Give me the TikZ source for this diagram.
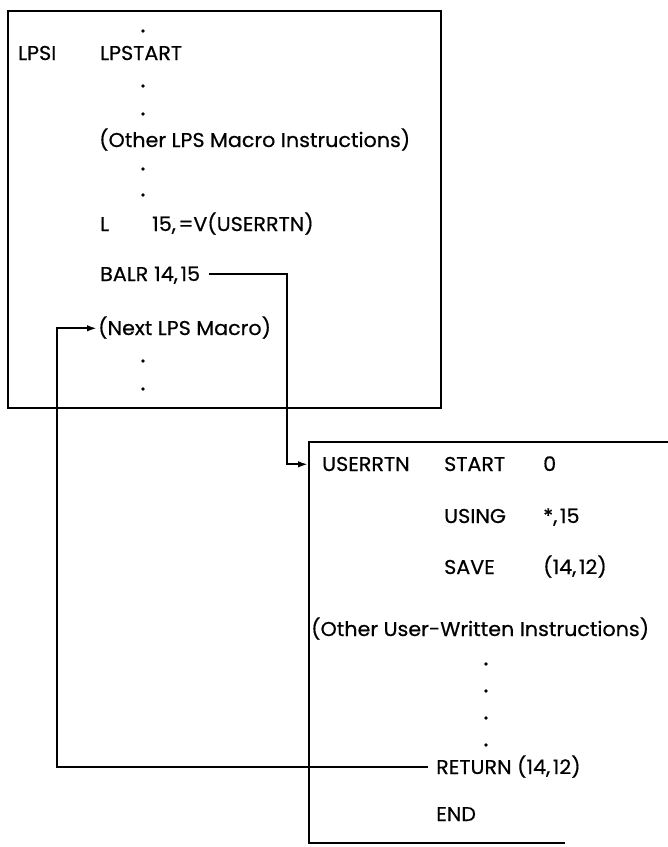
\documentclass[tikz,border=0pt]{standalone}
\usepackage{fontspec}
\usepackage{graphicx}
\setmainfont{Poppins}
\newfontfamily\diagfont{Poppins}[FakeBold=0.5]
\usetikzlibrary{arrows.meta}
\newsavebox\refbox
\sbox\refbox{\diagfont\fontsize{20}{23}\selectfont (Other LPS Macro Instructions)}
\pgfmathsetmacro\hfac{311/\wd\refbox}
\newcommand\T[1]{\scalebox{\hfac}[1]{#1}}
\newcommand\cm{,\kern2.5pt}
\begin{document}
\begin{tikzpicture}[x=1pt,y=-1pt,
  txt/.style={anchor=base west, inner sep=0pt, font=\diagfont\fontsize{20}{23}\selectfont},
  dotmark/.style={circle, fill, inner sep=0pt, minimum size=3.6pt},
  conn/.style={line width=2pt},
  boxline/.style={line width=1.9pt}]
\useasboundingbox (0,0) rectangle (668,847);
% box 1
\node[draw, boxline, anchor=north west, inner sep=0pt, minimum width=433pt, minimum height=397pt] (box1) at (7,10) {};
\node[dotmark] (d0) at (143,31) {};
\node[txt] (lpsi) at (18,60) {\T{LPSI}};
\node[txt] (lpstart) at (100,60) {\T{LPSTART}};
\node[dotmark] (d1) at (143,86) {};
\node[dotmark] (d2) at (143,114) {};
\node[txt] (other1) at (99,147) {\T{(Other LPS Macro Instructions)}};
\node[dotmark] (d3) at (143,169) {};
\node[dotmark] (d4) at (143,195) {};
\node[txt] (lop) at (100,231) {\T{L}};
\node[txt] (larg) at (152,231) {\T{15\cm=V(USERRTN)}};
\node[txt] (balr) at (100,281) {\T{BALR}};
\node[txt] (balrarg) at (154,281) {\T{14\cm15}};
\node[txt] (next) at (98,335) {\T{(Next LPS Macro)}};
\node[dotmark] (d5) at (143,361) {};
\node[dotmark] (d6) at (143,389) {};
% box 2
\coordinate (b2a) at (565,843);
\coordinate (b2b) at (309,843);
\coordinate (b2c) at (309,442);
\coordinate (b2d) at (668,442);
\draw[boxline] (b2a) -- (b2b) -- (b2c) -- (b2d);
\node[txt] (usr) at (322,471) {\T{USERRTN}};
\node[txt] (start) at (444,471) {\T{START}};
\node[txt] (startarg) at (543,471) {\T{0}};
\node[txt] (using) at (444,523) {\T{USING}};
\node[txt] (usingarg) at (543,523) {\T{*\cm15}};
\node[txt] (save) at (444,574) {\T{SAVE}};
\node[txt] (savearg) at (543,574) {\T{(14\cm12)}};
\node[txt] (other2) at (311,636) {\T{(Other User-Written Instructions)}};
\node[dotmark] (e1) at (486,664) {};
\node[dotmark] (e2) at (486,691) {};
\node[dotmark] (e3) at (486,718) {};
\node[dotmark] (e4) at (486,745) {};
\node[txt] (ret) at (436,774) {\T{RETURN (14\cm12)}};
\node[txt] (endn) at (436,821) {\T{END}};
% connection points
\coordinate (balrp) at ([xshift=9pt,yshift=6.7pt]balrarg.base east);
\coordinate (usrp) at ([xshift=-14pt,yshift=6.7pt]usr.base west);
\coordinate (retp) at ([xshift=-8pt,yshift=6.7pt]ret.base west);
\coordinate (nextp) at ([xshift=-1pt,yshift=6.7pt]next.base west);
\coordinate (rc) at (287,0);
\coordinate (lc) at (57,0);
\draw[conn, -{Latex[length=10pt,width=6.5pt]}] (balrp) -- (rc |- balrp) -- (rc |- usrp) -- (usrp);
\draw[conn, -{Latex[length=10pt,width=6.5pt]}] (retp) -- (lc |- retp) -- (lc |- nextp) -- (nextp);
\end{tikzpicture}
\end{document}
